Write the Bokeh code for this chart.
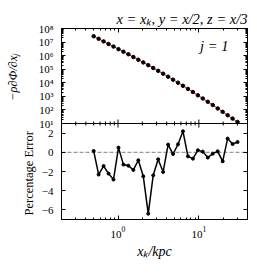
import math
from bokeh.plotting import figure
from bokeh.models import Range1d, LogAxis, LinearAxis, FixedTicker, Span, Label, LogScale, Title
from bokeh.embed import file_html
from bokeh.resources import INLINE

# ---- data ----
x_kpc = [0.500, 0.576, 0.663, 0.764, 0.880, 1.014, 1.168, 1.345, 1.549, 1.784,
         2.055, 2.367, 2.726, 3.140, 3.617, 4.166, 4.798, 5.527, 6.366, 7.332,
         8.445, 9.727, 11.20, 12.90, 14.86, 17.12, 19.72, 22.71, 26.16, 30.13]
force = [2.69e7, 1.74e7, 1.12e7, 7.24e6, 4.68e6, 3.02e6, 1.95e6, 1.26e6, 7.94e5, 5.01e5,
         3.16e5, 2.00e5, 1.23e5, 7.59e4, 4.68e4, 2.82e4, 1.70e4, 1.02e4, 6.03e3, 3.55e3,
         2.09e3, 1.20e3, 692, 398, 229, 129, 72.4, 40.7, 22.9, 12.9]
pct_err = [0.14, -2.32, -1.43, -2.22, -2.84, 0.49, -1.28, -1.39, -1.84, -0.83,
           -2.50, -6.39, -2.40, -0.73, -2.05, 0.80, -0.18, 0.83, 2.19, -0.42,
           -0.66, 0.21, 0.07, -0.55, -0.14, 0.10, -0.94, 1.43, 0.86, 1.07]

x_major = [1, 10]
y_top_major = [1e1, 1e2, 1e3, 1e4, 1e5, 1e6, 1e7, 1e8]
y_top_labels = ["10¹", "10²", "10³", "10⁴", "10⁵", "10⁶", "10⁷", "10⁸"]
y_bot_major = [-6, -4, -2, 0, 2]
y_bot_labels = ["−6", "−4", "−2", "0", "2"]
mantissas = [2, 3, 4, 5, 6, 7, 8, 9]
x_minor = [m * d for d in (0.1, 1, 10) for m in mantissas if 0.2 <= m * d <= 40]
y_top_minor = [m * 10 ** k for k in range(1, 8) for m in mantissas]

title_text = "x = xₖ, y = x/2, z = x/3"
panel_text = "j = 1"
top_ylabel = "−ρ∂Φ/∂xⱼ"
bot_ylabel = "Percentage Error"
xlabel = "xₖ/kpc"

FONT = "Liberation Serif"

# ---- panel geometry (two stacked panels sharing one frame) ----
X_LIM = (0.2, 40)
ERR_LIM = (-7, 3)
FORCE_LIM = (1e1, 1e8)
TOP_PX, BOT_PX = 95, 96
px_per_decade = TOP_PX / (math.log10(FORCE_LIM[1]) - math.log10(FORCE_LIM[0]))
px_per_unit = BOT_PX / (ERR_LIM[1] - ERR_LIM[0])
err_top = ERR_LIM[1] + TOP_PX / px_per_unit
force_bottom = 10 ** (math.log10(FORCE_LIM[0]) - BOT_PX / px_per_decade)


def force_to_lin(v):
    return ERR_LIM[1] + (math.log10(v) - math.log10(FORCE_LIM[0])) * px_per_decade / px_per_unit


p = figure(frame_width=186, frame_height=TOP_PX + BOT_PX, x_axis_type="log",
           x_range=Range1d(*X_LIM), y_range=Range1d(ERR_LIM[0], err_top),
           x_axis_location=None, y_axis_location=None,
           output_backend="svg", toolbar_location=None,
           min_border_left=61, min_border_right=10, min_border_top=28, min_border_bottom=50)
p.extra_y_ranges = {"force": Range1d(force_bottom, FORCE_LIM[1])}
p.extra_y_scales = {"force": LogScale()}
p.grid.visible = False
p.outline_line_color = "black"


def style_axis(ax, labels):
    ax.axis_line_color = "black"
    ax.axis_line_width = 1
    ax.major_tick_in = 4
    ax.major_tick_out = 0
    ax.minor_tick_in = 2
    ax.minor_tick_out = 0
    ax.major_tick_line_color = "black"
    ax.minor_tick_line_color = "black"
    if labels:
        ax.major_label_text_font = FONT
        ax.major_label_text_font_size = "11px"
        ax.major_label_text_color = "black"
        ax.axis_label_text_font = FONT
        ax.axis_label_text_font_size = "13px"
        ax.axis_label_text_color = "black"
    else:
        ax.major_label_text_font_size = "1px"
        ax.major_label_text_alpha = 0
        ax.major_label_standoff = 0


left_ticks = list(y_bot_major) + [force_to_lin(v) for v in y_top_major]
left_minor = [force_to_lin(v) for v in y_top_minor]
overrides = {t: s for t, s in zip(y_bot_major, y_bot_labels)}
overrides.update({force_to_lin(v): s for v, s in zip(y_top_major, y_top_labels)})
yt = FixedTicker(ticks=left_ticks, minor_ticks=left_minor)
xt = FixedTicker(ticks=x_major, minor_ticks=x_minor)

ax = LinearAxis(ticker=yt, major_label_overrides=overrides)
style_axis(ax, True)
ax.major_label_standoff = 8
p.add_layout(ax, "left")

# the two y-axis labels, each placed along its own panel
p.add_layout(Title(text=bot_ylabel, align="left", offset=4,
                   standoff=0, text_font=FONT, text_font_size="12.5px",
                   text_line_height=0.8,
                   text_font_style="normal", text_color="black"), "left")
p.add_layout(Title(text=top_ylabel, align="right", offset=25,
                   standoff=0, text_font=FONT, text_font_size="12.5px",
                   text_line_height=0.8,
                   text_font_style="italic", text_color="black"), "left")

a = LinearAxis(ticker=yt)
style_axis(a, False)
p.add_layout(a, "right")
a = LogAxis(ticker=xt)
style_axis(a, False)
p.add_layout(a, "above")
ax = LogAxis(ticker=xt, axis_label=xlabel)
style_axis(ax, True)
ax.major_label_standoff = 7
ax.axis_label_standoff = 3
ax.axis_label_text_font_style = "italic"
ax.axis_label_text_font_size = "14px"
p.add_layout(ax, "below")

# separator between the two panels, with ticks pointing both ways
p.add_layout(Span(location=ERR_LIM[1], dimension="width", line_color="black", line_width=1))
p.scatter(x_major, [ERR_LIM[1]] * len(x_major), marker="dash", angle=math.pi / 2,
          size=8, line_color="black", line_width=1)
p.scatter(x_minor, [ERR_LIM[1]] * len(x_minor), marker="dash", angle=math.pi / 2,
          size=4, line_color="black", line_width=1)

# top panel
p.line(x_kpc, force, line_color="red", line_width=1, y_range_name="force")
p.scatter(x_kpc, force, size=3.5, color="black", y_range_name="force")

# bottom panel
p.add_layout(Span(location=0, dimension="width", line_color="#999999", line_width=1.2,
                  line_dash="4 2", level="underlay"))
p.line(x_kpc, pct_err, line_color="black", line_width=1.5)
p.scatter(x_kpc, pct_err, size=3, color="black")

# texts
p.title.text = title_text
p.title.align = "right"
p.title.text_font = FONT
p.title.text_font_style = "italic"
p.title.text_font_size = "14.5px"
p.title.text_color = "black"
p.title.standoff = 4

p.add_layout(Label(x=23.2, y=10 ** 6.73, y_range_name="force", text=panel_text,
                   text_align="right", text_baseline="middle", text_font=FONT,
                   text_font_style="italic", text_font_size="14.5px", text_color="black"))

open("out.html", "w").write(file_html(p, INLINE))
